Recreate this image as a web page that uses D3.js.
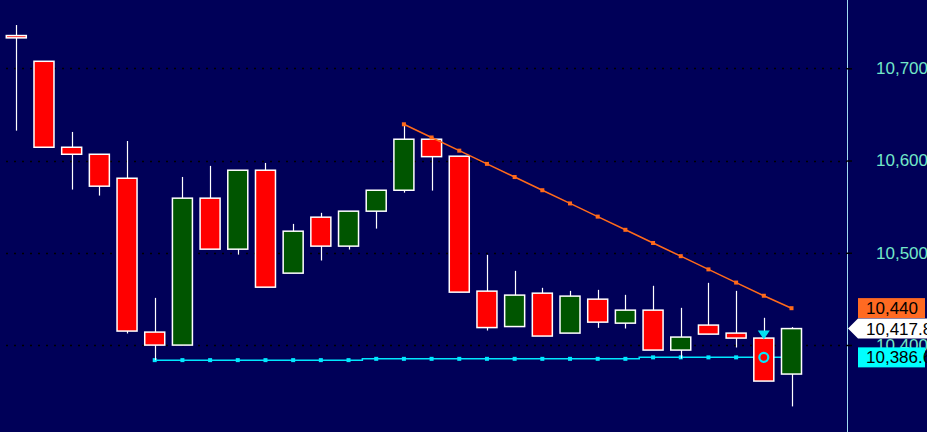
<!DOCTYPE html>
<html><head><meta charset="utf-8">
<script src="https://cdn.jsdelivr.net/npm/d3@7"></script>
<style>html,body{margin:0;padding:0;background:#000058;overflow:hidden}</style>
</head><body>
<svg id="c" width="927" height="432"></svg>
<script>
// ---- data ----
const opens  = [10735.5,10707.6,10614.4,10606.8,10580.8,10414.0,10399.9,10559.2,10503.9,10589.5,10477.9,10538.6,10507.2,10545.1,10567.8,10623.1,10604.7,10458.4,10420.0,10456.2,10412.9,10449.7,10423.7,10437.8,10394.5,10421.6,10412.9,10407.5,10368.5];
const highs  = [10746.9,10707.6,10631.0,10606.8,10621.2,10451.1,10582.2,10594.2,10589.5,10597.4,10531.3,10543.3,10545.1,10567.8,10639.3,10624.9,10604.7,10497.7,10480.4,10462.0,10458.7,10459.8,10454.4,10464.2,10440.3,10467.4,10458.7,10429.5,10419.4];
const lows   = [10632.4,10614.4,10568.5,10562.0,10412.5,10383.6,10399.9,10503.9,10498.0,10462.7,10477.9,10491.6,10503.5,10526.2,10565.2,10567.4,10457.3,10415.7,10420.0,10409.7,10412.9,10418.6,10417.9,10394.5,10385.4,10411.8,10397.3,10360.9,10333.4];
const closes = [10733.0,10614.4,10606.8,10572.2,10415.1,10399.9,10559.2,10503.9,10589.5,10462.7,10523.4,10507.2,10545.1,10567.8,10623.1,10604.2,10457.3,10418.9,10454.1,10409.7,10453.0,10424.8,10437.8,10394.5,10408.6,10411.8,10407.5,10360.9,10417.8];

// resistance trend line (orange), starts at candle index 14
const trendStart = 14;
const trendValues = [10639.3,10625.0,10610.7,10596.4,10582.1,10567.8,10553.5,10539.2,10524.9,10510.6,10496.3,10482.0,10467.7,10453.4,10439.9];

// support line (cyan), starts at candle index 5
const supportStart = 5;
const supportValues = [10383.6,10383.6,10383.6,10383.6,10383.6,10383.6,10383.6,10383.6,
                       10385.0,10385.0,10385.0,10385.0,10385.0,10385.0,10385.0,10385.0,10385.0,10385.0,
                       10386.6,10386.6,10386.6,10386.6,10386.6,10386.6];

const yTicks = [10400,10500,10600,10700];
const signalIndex = 27;          // candle with triangle + circle markers
const signalTriangleValue = 10406;
const signalCircleValue = 10386.6;

const labelValues = [10440, 10417.8, 10386.6];
const labelTexts  = ["10,440", "10,417.8", "10,386.6"];
const labelFills  = ["#ff6a22", "#ffffff", "#00ffff"];

// ---- chart ----
const W = 927, H = 432, axisX = 847;
const svg = d3.select("#c");
svg.append("rect").attr("width",W).attr("height",H).attr("fill","#000058");

const x = d3.scaleLinear().domain([0, opens.length-1]).range([16.3, 791.5]);
const y = d3.scaleLinear().domain([10400, 10700]).range([345, 68.3]);

// dotted grid
svg.append("g").selectAll("line").data(yTicks).join("line")
  .attr("x1", 6).attr("x2", axisX)
  .attr("y1", d => Math.round(y(d))+0.5).attr("y2", d => Math.round(y(d))+0.5)
  .attr("stroke", "#000").attr("stroke-width", 1.5).attr("stroke-dasharray", "2,6");

// support line (below candles)
const supIdx = supportValues.map((v,i)=>i+supportStart);
const supLine = d3.line().x(i=>x(i)).y(i=>y(supportValues[i-supportStart])).curve(d3.curveStep);
svg.append("path").attr("d", supLine(supIdx)).attr("fill","none")
  .attr("stroke","#00e8ff").attr("stroke-width",1.5);
svg.append("g").selectAll("rect").data(supIdx.filter(i=>i<signalIndex)).join("rect")
  .attr("x", i=>x(i)-2).attr("y", i=>y(supportValues[i-supportStart])-2)
  .attr("width",4).attr("height",4).attr("fill","#00e8ff");

// candles
const idx = d3.range(opens.length);
const bw = 20;
const g = svg.append("g");
g.selectAll("line.wick").data(idx).join("line").attr("class","wick")
  .attr("x1", i=>Math.round(x(i))+0.5).attr("x2", i=>Math.round(x(i))+0.5)
  .attr("y1", i=>y(highs[i])).attr("y2", i=>y(lows[i]))
  .attr("stroke","#fff").attr("stroke-width",1.2);
g.selectAll("rect.body").data(idx).join("rect").attr("class","body")
  .attr("x", i=>x(i)-bw/2)
  .attr("y", i=>y(Math.max(opens[i],closes[i])))
  .attr("width", bw)
  .attr("height", i=>Math.max(2, Math.abs(y(opens[i])-y(closes[i]))))
  .attr("fill", i=> closes[i] >= opens[i] ? "#005500" : "#ff0000")
  .attr("stroke","#fff").attr("stroke-width",1.5);

// trend line (above candles)
const trIdx = trendValues.map((v,i)=>i+trendStart);
const trLine = d3.line().x(i=>x(i)).y(i=>y(trendValues[i-trendStart]));
svg.append("path").attr("d", trLine(trIdx)).attr("fill","none")
  .attr("stroke","#ff6a1a").attr("stroke-width",1.5);
svg.append("g").selectAll("rect").data(trIdx).join("rect")
  .attr("x", i=>x(i)-2).attr("y", i=>y(trendValues[i-trendStart])-2)
  .attr("width",4).attr("height",4).attr("fill","#ff6a1a");

// signal markers
const sx = x(signalIndex), sy = y(signalTriangleValue);
svg.append("path").attr("d", `M${sx-6},${sy-9}L${sx+6},${sy-9}L${sx},${sy}Z`).attr("fill","#00e0f0");
svg.append("circle").attr("cx", sx).attr("cy", y(signalCircleValue)).attr("r",4.5)
  .attr("fill","none").attr("stroke","#00e8ff").attr("stroke-width",2.2);

// right axis
svg.append("line").attr("x1",axisX+0.5).attr("x2",axisX+0.5).attr("y1",0).attr("y2",H)
  .attr("stroke","#a0dcf0").attr("stroke-width",1);
const axis = d3.axisRight(y).tickValues(yTicks).tickSize(5).tickPadding(24)
  .tickFormat(d3.format(","));
const ag = svg.append("g").attr("transform",`translate(${axisX},0)`).call(axis);
ag.select(".domain").remove();
ag.selectAll(".tick line").attr("stroke","#000").attr("stroke-width",1.5);
ag.selectAll(".tick text").attr("fill","#72e8c8").attr("font-family","Liberation Sans, Arial, sans-serif")
  .attr("font-size",17);

// price label boxes
const lg = svg.append("g");
labelValues.forEach((v,k)=>{
  const cy = y(v);
  if (k===1) {
    lg.append("path").attr("d",`M${axisX+1},${cy}L${858},${cy-10}L${W},${cy-10}L${W},${cy+10}L${858},${cy+10}Z`)
      .attr("fill", labelFills[k]);
  } else {
    lg.append("rect").attr("x",858).attr("y",cy-10).attr("width",67).attr("height",20).attr("fill",labelFills[k]);
  }
  lg.append("text").attr("x",866).attr("y",cy).attr("dy","0.36em")
    .attr("font-family","Liberation Sans, Arial, sans-serif").attr("font-size",17)
    .attr("fill","#000").text(labelTexts[k]);
});
</script>
</body></html>
